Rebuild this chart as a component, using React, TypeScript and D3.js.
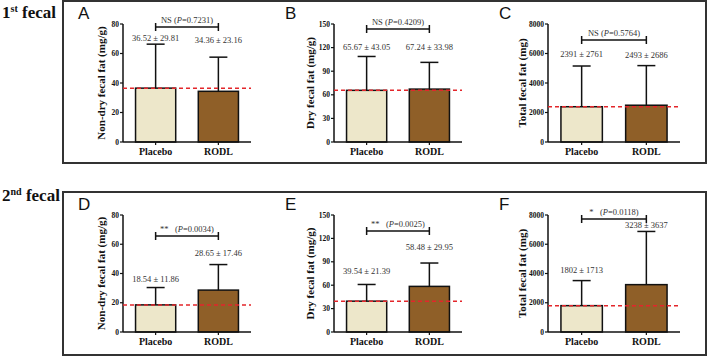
import * as d3 from 'd3'

// group names shared by every panel
const groups = ['Placebo', 'RODL']

// 1st fecal collection (mean, SD)
const nonDry1Mean = [36.52, 34.36]
const nonDry1Sd = [29.81, 23.16]
const dry1Mean = [65.67, 67.24]
const dry1Sd = [43.05, 33.98]
const total1Mean = [2391, 2493]
const total1Sd = [2761, 2686]

// 2nd fecal collection (mean, SD)
const nonDry2Mean = [18.54, 28.65]
const nonDry2Sd = [11.86, 17.46]
const dry2Mean = [39.54, 58.48]
const dry2Sd = [21.39, 29.95]
const total2Mean = [1802, 3238]
const total2Sd = [1713, 3637]

// y-axis tick values
const ticksNonDry = [0, 20, 40, 60, 80]
const ticksDry = [0, 30, 60, 90, 120, 150]
const ticksTotal = [0, 2000, 4000, 6000, 8000]

// significance marks and p values
const sigMarks = ['NS', 'NS', 'NS', '**', '**', '*']
const pValues = ['0.7231', '0.4209', '0.5764', '0.0034', '0.0025', '0.0118']

const yTitles = ['Non-dry fecal fat (mg/g)', 'Dry fecal fat (mg/g)', 'Total fecal fat (mg)']
const letters = ['A', 'B', 'C', 'D', 'E', 'F']
const rowLabels = [['1', 'st'], ['2', 'nd']]

const means = [nonDry1Mean, dry1Mean, total1Mean, nonDry2Mean, dry2Mean, total2Mean]
const sds = [nonDry1Sd, dry1Sd, total1Sd, nonDry2Sd, dry2Sd, total2Sd]
const tickSets = [ticksNonDry, ticksDry, ticksTotal]

const fills = ['#ede7ca', '#8f5f28']
const SERIF = '"Liberation Serif", "Times New Roman", serif'
const SANS = '"Liberation Sans", Arial, sans-serif'

// layout
const cols = [
  { x0: 123, x1: 251, titleX: 101, letterX: 78 },
  { x0: 334, x1: 462, titleX: 310, letterX: 285 },
  { x0: 548, x1: 680, titleX: 522, letterX: 499 },
]
const rows = [
  { top: 24, bottom: 142, boxY: 1, boxH: 162, letterY: 19, labelY: 18 },
  { top: 215, bottom: 332, boxY: 192, boxH: 163, letterY: 210, labelY: 201 },
]
const bracketYs = [27, 29, 40, 236, 231, 219]
// space between each whisker cap and its mean ± SD label (px)
const labelGaps = [[3, 14], [6, 12], [9, 8], [5.5, 8.5], [10, 13], [7.5, 3.5]]

function fmt(v: number) {
  return v >= 1000 ? String(v) : v.toFixed(2)
}

function Panel({ idx }: { idx: number }) {
  const col = cols[idx % 3]
  const row = rows[Math.floor(idx / 3)]
  const ticks = tickSets[idx % 3]
  const m = means[idx]
  const s = sds[idx]

  const x = d3.scaleBand<string>().domain(groups).range([col.x0, col.x1])
    .paddingInner(0.36).paddingOuter(0.2)
  const y = d3.scaleLinear().domain([0, ticks[ticks.length - 1]]).range([row.bottom, row.top])
  const bw = x.bandwidth()
  const cx = (g: string) => (x(g) ?? 0) + bw / 2

  const errTops = m.map((v, i) => y(v + s[i]))
  const labelYs = errTops.map((t, i) => t - labelGaps[idx][i])

  const by = bracketYs[idx]
  const bx0 = cx(groups[0])
  const bx1 = cx(groups[1])
  const mark = sigMarks[idx]

  return (
    <g>
      <text x={col.letterX} y={row.letterY} fontFamily={SANS} fontSize={17} fill="#111">
        {letters[idx]}
      </text>

      {/* y axis */}
      <line x1={col.x0} x2={col.x0} y1={y.range()[1]} y2={row.bottom} stroke="#111" strokeWidth={1.5} />
      {ticks.map(t => (
        <g key={t}>
          <line x1={col.x0 - 3} x2={col.x0} y1={y(t)} y2={y(t)} stroke="#111" strokeWidth={1.2} />
          <text x={col.x0 - 4} y={y(t) + 2.6} textAnchor="end" fontFamily={SERIF}
            fontWeight="bold" fontSize={7.5} fill="#111">{t}</text>
        </g>
      ))}
      <text transform={`translate(${col.titleX + 4},${(row.top + row.bottom) / 2}) rotate(-90)`}
        textAnchor="middle" fontFamily={SERIF} fontWeight="bold" fontSize={11} fill="#111">
        {yTitles[idx % 3]}
      </text>

      {/* bars */}
      {groups.map((g, i) => (
        <rect key={g} x={x(g)} y={y(m[i])} width={bw} height={row.bottom - y(m[i])}
          fill={fills[i]} stroke="#111" strokeWidth={1.5} />
      ))}

      {/* upper error bars */}
      {groups.map((g, i) => (
        <g key={g} stroke="#111" strokeWidth={1.5}>
          <line x1={cx(g)} x2={cx(g)} y1={y(m[i])} y2={errTops[i]} />
          <line x1={cx(g) - 9} x2={cx(g) + 9} y1={errTops[i]} y2={errTops[i]} />
        </g>
      ))}

      {/* x axis */}
      <line x1={col.x0} x2={col.x1} y1={row.bottom} y2={row.bottom} stroke="#111" strokeWidth={1.5} />
      {groups.map(g => (
        <g key={g}>
          <line x1={cx(g)} x2={cx(g)} y1={row.bottom} y2={row.bottom + 3} stroke="#111" strokeWidth={1.2} />
          <text x={cx(g)} y={row.bottom + 13} textAnchor="middle" fontFamily={SERIF}
            fontWeight="bold" fontSize={10} fill="#111">{g}</text>
        </g>
      ))}

      {/* placebo mean reference */}
      <line x1={col.x0} x2={col.x1} y1={y(m[0])} y2={y(m[0])} stroke="#e3262b"
        strokeWidth={1.5} strokeDasharray="4,3" />

      {/* mean ± SD labels */}
      {groups.map((g, i) => (
        <text key={g} x={cx(g)} y={labelYs[i]} textAnchor="middle" fontFamily={SERIF}
          fontSize={8.5} fill="#333">
          {`${fmt(m[i])} ± ${fmt(s[i])}`}
        </text>
      ))}

      {/* significance bracket */}
      <g stroke="#111" strokeWidth={1.5}>
        <line x1={bx0} x2={bx1} y1={by} y2={by} />
        <line x1={bx0} x2={bx0} y1={by - 4} y2={by + 4} />
        <line x1={bx1} x2={bx1} y1={by - 4} y2={by + 4} />
      </g>
      <text x={(bx0 + bx1) / 2} y={by - 4} textAnchor="middle" fontFamily={SERIF}
        fontSize={8.5} fill="#333" xmlSpace="preserve">
        {mark === 'NS' ? 'NS (' : `${mark}   (`}
        <tspan fontStyle="italic">P</tspan>
        {`=${pValues[idx]})`}
      </text>
    </g>
  )
}

export default function App() {
  return (
    <svg width={708} height={356} style={{ position: 'absolute', left: 0, top: 0, background: '#fff' }}>
      {rows.map((r, ri) => (
        <g key={ri}>
          <rect x={63} y={r.boxY} width={643} height={r.boxH} fill="none" stroke="#333" strokeWidth={2} />
          <text x={2} y={r.labelY} fontFamily={SERIF} fontWeight="bold" fontSize={17} fill="#111">
            {rowLabels[ri][0]}
            <tspan dy={-6} fontSize={10}>{rowLabels[ri][1]}</tspan>
            <tspan dy={6}>{' fecal'}</tspan>
          </text>
        </g>
      ))}
      {letters.map((_, i) => <Panel key={i} idx={i} />)}
    </svg>
  )
}
